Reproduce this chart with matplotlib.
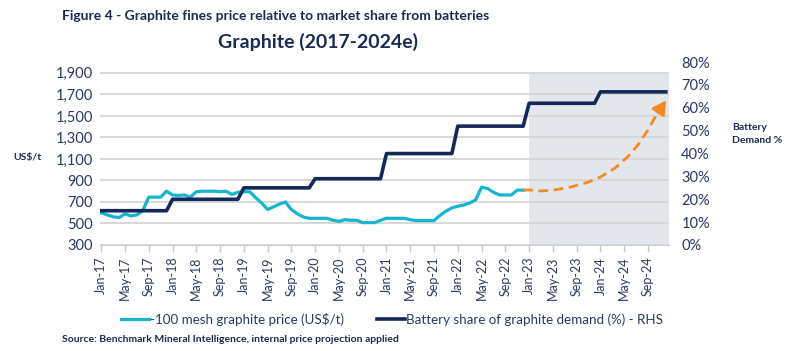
import numpy as np
import matplotlib
matplotlib.use('Agg')
import matplotlib.pyplot as plt

plt.rcParams['font.family'] = ['Lato', 'DejaVu Sans']

navy = '#14285a'
cyan = '#16b4cf'
orange = '#f58a24'
txt = '#2b3866'

# monthly axis labels, Jan-17 .. Dec-24
months = ['Jan', 'Feb', 'Mar', 'Apr', 'May', 'Jun', 'Jul', 'Aug', 'Sep', 'Oct', 'Nov', 'Dec']
years = ['17', '18', '19', '20', '21', '22', '23', '24']
dates = [m + '-' + y for y in years for m in months]

# -100 mesh price, US$/t, Jan-17 .. Dec-22
price = [600, 580, 563, 555, 590, 570, 580, 620, 745, 745, 745, 800,
         765, 760, 765, 745, 795, 800, 800, 800, 795, 800, 770, 790,
         795, 795, 740, 690, 630, 655, 680, 700, 630, 590, 560, 548,
         548, 548, 548, 530, 520, 535, 530, 530, 508, 508, 508, 530,
         548, 548, 548, 548, 535, 527, 527, 527, 527, 575, 615, 645,
         660, 672, 690, 720, 837, 825, 790, 765, 765, 765, 810, 810]

# battery share of graphite demand, % per year 2017..2024
share_year = [15, 20, 25, 29, 40, 52, 62, 67]
share = np.repeat(share_year, 12) / 100

# projected price path (dashed arrow), month index / US$/t
proj_m = [71, 72.1, 74.0, 76.3, 79.1, 81.9, 84.1, 86.4, 88.6, 90.3, 92.0, 93.4]
proj_p = [810, 812, 802, 812, 840, 883, 935, 1013, 1121, 1230, 1370, 1509]
proj_tip = (95.3, 1665)

x = np.arange(len(dates))

fig = plt.figure(figsize=(8, 3.51), dpi=100)
ax = fig.add_axes([0.125, 0.302, 0.711, 0.521])
ax2 = ax.twinx()

ax.axvspan(72, 95.5, ymin=0, ymax=(1900 - 300) / (2000 - 300), color='#e3e6eb', lw=0, zorder=0)
ax.set_axisbelow(True)
ax.grid(axis='y', color='#d6d6d6', lw=1.3)

l1, = ax.plot(x[:len(price)], price, color=cyan, lw=2.3, zorder=3)
ax.plot(proj_m, proj_p, color=orange, lw=2, ls=(0, (3.5, 2)), zorder=3)
ax.annotate('', xy=proj_tip, xytext=(proj_m[-1], proj_p[-1]),
            arrowprops=dict(arrowstyle='-|>,head_length=0.8,head_width=0.45', color=orange, lw=2))
l2, = ax2.plot(x, share, color=navy, lw=2.6, zorder=3)

ax.set_xlim(-0.2, 95.5)
ax.set_ylim(300, 2000)
ax.set_yticks(np.arange(300, 2000, 200))
ax.set_yticklabels(['{:,}'.format(v) for v in range(300, 2000, 200)])
ax2.set_ylim(0, 0.8)
ax2.set_yticks(np.arange(0, 0.81, 0.1))
ax2.set_yticklabels(['{:.0f}%'.format(v * 100) for v in np.arange(0, 0.81, 0.1)])

ax.set_xticks(x[::4])
ax.set_xticklabels(dates[::4], rotation=90)

for a in (ax, ax2):
    for s in a.spines.values():
        s.set_visible(False)
ax.spines['bottom'].set_visible(True)
ax.spines['bottom'].set_color('#d0d0d0')
ax.tick_params(axis='x', colors='#c8c8c8', labelcolor=txt, labelsize=9, length=5, width=1)
ax.tick_params(axis='y', length=0, labelsize=10.5, labelcolor=txt, pad=5)
ax2.tick_params(axis='y', length=0, labelsize=10.5, labelcolor=txt, pad=9)

fig.text(0.078, 0.955, 'Figure 4 - Graphite fines price relative to market share from batteries',
         fontsize=10, fontweight='bold', color='#1b2a55', va='center')
fig.text(0.398, 0.88, 'Graphite (2017-2024e)', fontsize=14, fontweight='bold',
         color='#1b2a55', ha='center', va='center')
fig.text(0.034, 0.55, 'US$/t', fontsize=7.5, fontweight='bold', color='#1b2a55', ha='center', va='center')
fig.text(0.915, 0.618, 'Battery\nDemand %', fontsize=7.5, fontweight='bold', color='#1b2a55',
         va='center', linespacing=1.6)
fig.text(0.078, 0.034, 'Source: Benchmark Mineral Intelligence, internal price projection applied',
         fontsize=7.5, fontweight='bold', color='#1b2a55', va='center')

fig.legend([l1, l2], ['-100 mesh graphite price (US$/t)', 'Battery share of graphite demand (%) - RHS'],
           loc='center', bbox_to_anchor=(0.49, 0.09), ncol=2, frameon=False, fontsize=9.6,
           handlelength=2.1, handletextpad=0.1, columnspacing=2.4, labelcolor=txt)

fig.savefig('out.png', dpi=100)
